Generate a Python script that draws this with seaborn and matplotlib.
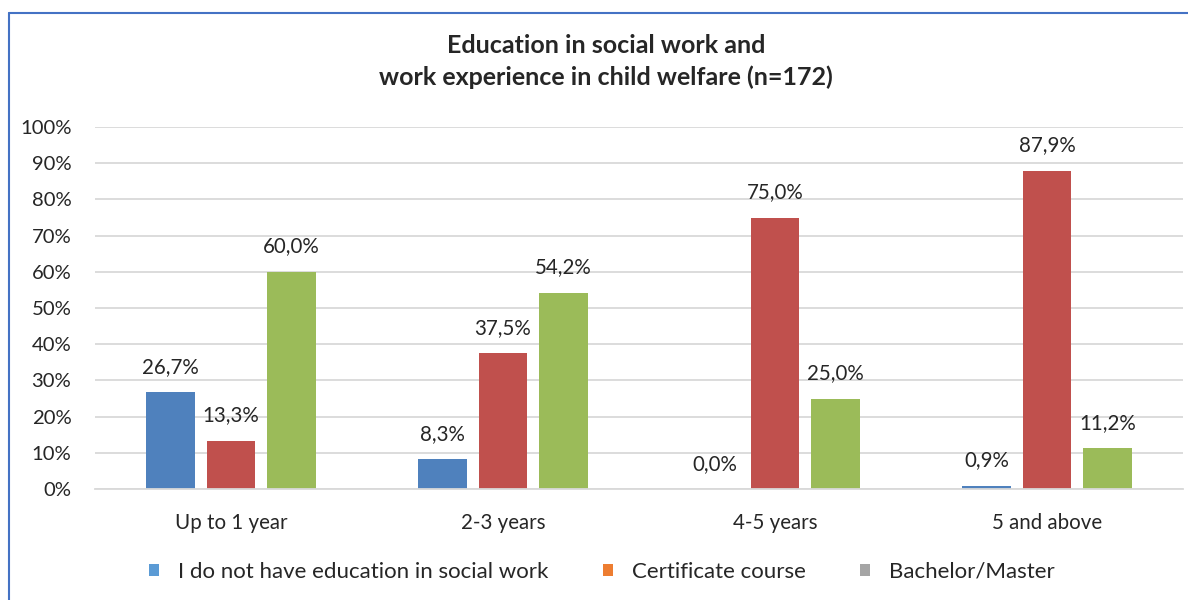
import matplotlib.pyplot as plt
import seaborn as sns
import pandas as pd
import numpy as np
from matplotlib.patches import Patch
from matplotlib.lines import Line2D

# データ
categories = ['Up to 1 year', '2-3 years', '4-5 years', '5 and above']
groups = ['I do not have education in social work', 'Certificate course', 'Bachelor/Master']
no_education = [26.7, 8.3, 0.0, 0.9]
certificate = [13.3, 37.5, 75.0, 87.9]
bachelor_master = [60.0, 54.2, 25.0, 11.2]

bar_colors = ['#4F81BD', '#C0504D', '#9BBB59']
legend_colors = ['#5B9BD5', '#ED7D31', '#A5A5A5']

df = pd.DataFrame({
    'category': categories * 3,
    'group': [groups[0]] * 4 + [groups[1]] * 4 + [groups[2]] * 4,
    'value': no_education + certificate + bachelor_master,
})

sns.set_style('white')
plt.rcParams['font.family'] = ['Lato', 'DejaVu Sans']

fig = plt.figure(figsize=(11.88, 6), dpi=100)
ax = fig.add_axes([95 / 1188, 1 - 489 / 600, 1088 / 1188, 362 / 600])

sns.barplot(data=df, x='category', y='value', hue='group', order=categories,
            hue_order=groups, palette=bar_colors, width=0.667, gap=0.2,
            saturation=1, legend=False, linewidth=0, ax=ax)

# 値ラベル
for cont in ax.containers:
    labels = [f"{b.get_height():.1f}".replace('.', ',') + '%' for b in cont]
    ax.bar_label(cont, labels=labels, padding=11, fontsize=14.8, color='#262626')

ax.set_ylim(0, 100)
ax.set_xlim(-0.5, 3.5)
ax.set_yticks(np.arange(0, 101, 10))
ax.set_yticklabels([f'{v}%' for v in range(0, 101, 10)])
ax.yaxis.grid(True, color='#D9D9D9', linewidth=1.3)
ax.set_axisbelow(True)
for s in ['top', 'right', 'left']:
    ax.spines[s].set_visible(False)
ax.spines['bottom'].set_color('#D9D9D9')
ax.spines['bottom'].set_linewidth(1.3)
ax.tick_params(axis='y', length=0, pad=17, labelsize=14.6, labelcolor='#262626')
ax.tick_params(axis='x', length=0, pad=17, labelsize=14.8, labelcolor='#262626')
ax.set_xlabel('')
ax.set_ylabel('')

fig.text(606 / 1188, 1 - 61.5 / 600, 'Education in social work and\nwork experience in child welfare (n=172)',
         ha='center', va='center', fontsize=18, fontweight='bold', color='#262626',
         linespacing=1.45)

handles = [Patch(facecolor=c, edgecolor='none') for c in legend_colors]
fig.legend(handles, groups, loc='center', bbox_to_anchor=(602 / 1188, 1 - 572 / 600),
           ncol=3, frameon=False, fontsize=16, handlelength=0.45, handleheight=0.45,
           handletextpad=0.85, columnspacing=2.45, labelcolor='#262626')

# 枠線
fig.add_artist(Line2D([9 / 1188, 1], [1 - 13 / 600, 1 - 13 / 600], color='#4472C4', lw=1.5))
fig.add_artist(Line2D([9 / 1188, 9 / 1188], [0, 1 - 13 / 600], color='#4472C4', lw=1.5))

fig.savefig('out.png', dpi=100)
